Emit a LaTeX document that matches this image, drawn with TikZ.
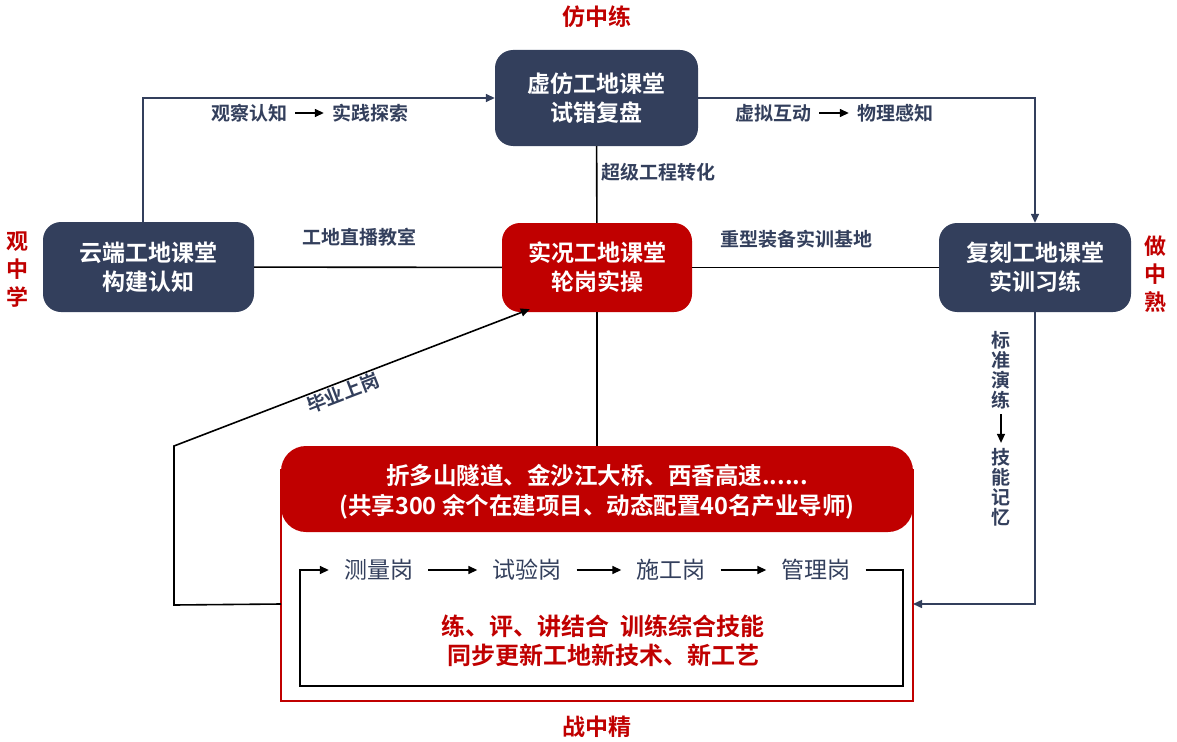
\documentclass[tikz,border=0pt]{standalone}
\usepackage{fontspec}
\setmainfont[BoldFont={Noto Sans CJK SC Bold}]{Noto Sans CJK SC}
\usetikzlibrary{arrows.meta}
\definecolor{navy}{RGB}{51,63,92}
\definecolor{fire}{RGB}{192,0,0}

\begin{document}
\begin{tikzpicture}[x=1pt,y=-1pt,
        room/.style={rounded corners=18pt,fill=navy,text=white,align=center,
            font=\fontsize{23}{29}\selectfont\bfseries,inner sep=0pt},
        liveroom/.style={room,fill=fire},
        lbl/.style={text=navy,font=\fontsize{19}{22}\selectfont\bfseries,inner sep=0pt},
        post/.style={text=navy,font=\fontsize{23}{26}\selectfont,inner xsep=15pt,inner ysep=2pt},
        motto/.style={text=fire,font=\fontsize{23}{28}\selectfont\bfseries,align=center},
        navyline/.style={draw=navy,line width=1.5pt},
        blk/.style={draw=black,line width=1.6pt},
        tip/.style={-{Triangle[length=9pt,width=8pt]}}]
    \useasboundingbox (0,0) rectangle (1177,741);

% four classrooms
\node[room,minimum width=211pt,minimum height=90pt] (cloud) at (148.5,267) {云端工地课堂\\构建认知};
\node[room,minimum width=203pt,minimum height=96pt] (sim) at (596.5,98) {虚仿工地课堂\\试错复盘};
\node[liveroom,minimum width=190pt,minimum height=89pt] (live) at (597,267.5) {实况工地课堂\\轮岗实操};
\node[room,minimum width=192pt,minimum height=89pt] (copy) at (1035,267.5) {复刻工地课堂\\实训习练};

\node[motto] (t1) at (597,17) {仿中练};
\node[motto,font=\fontsize{22}{28}\selectfont\bfseries] (t2) at (17,270) {观\\中\\学};
\node[motto,font=\fontsize{22}{28}\selectfont\bfseries] (t3) at (1155,274) {做\\中\\熟};
\node[motto] (t4) at (597,727) {战中精};

% site box
\draw[fire,line width=1.6pt] (281,470) rectangle (913,701);
\node[fill=fire,rounded corners=25pt,minimum width=632pt,minimum height=86pt,inner sep=0pt] (site) at (597,489) {};
\node[text=white,align=center,font=\fontsize{23.5}{30}\selectfont\bfseries] (sitetxt) at (597,492)
    {折多山隧道、金沙江大桥、西香高速......\\(共享300 余个在建项目、动态配置40名产业导师)};

\node[post] (p1) at (378.5,570) {测量岗};
\node[post] (p2) at (527,570) {试验岗};
\node[post] (p3) at (671,570) {施工岗};
\node[post] (p4) at (816,570) {管理岗};
\draw[blk,tip] (p1) -- (p2);
\draw[blk,tip] (p2) -- (p3);
\draw[blk,tip] (p3) -- (p4);
\coordinate (loopR) at (903,686);
\coordinate (loopL) at (300,686);
\draw[blk,tip] (p4.east) -| (loopR) -- (loopL) |- (p1.west);

\node[motto,font=\fontsize{24}{29}\selectfont\bfseries] (m1) at (603,641) {练、评、讲结合\ \ 训练综合技能\\同步更新工地新技术、新工艺};

% connectors
\draw[navyline,tip] ([xshift=-5.5pt]cloud.north) |- (sim.west);
\draw[navyline,tip] (sim.east) -| (copy.north);
\draw[blk] (sim) -- (live);
\draw[blk] (cloud) -- (live);
\draw[blk] (live) -- (copy);
\draw[blk] (live.south) -- (site.north);
\coordinate (inR) at (913,604);
\draw[navyline,tip] (copy.south) |- (inR);

\coordinate (outL) at (281,604);
\coordinate (bendB) at (174,605);
\coordinate (bendT) at (174,446);
\draw[blk,tip] (outL) -- (bendB) -- (bendT) -- ([xshift=28pt,yshift=3pt]live.south west);

% labels
\node[lbl,inner xsep=8pt] (a1) at (249,113) {观察认知};
\node[lbl,inner xsep=8pt] (a2) at (370,113) {实践探索};
\draw[black,line width=1.4pt,tip] (a1) -- (a2);
\node[lbl,inner xsep=8pt] (b1) at (773,113) {虚拟互动};
\node[lbl,inner xsep=8pt] (b2) at (895,113) {物理感知};
\draw[black,line width=1.4pt,tip] (b1) -- (b2);
\node[lbl,anchor=west] (c1) at (601,172) {超级工程转化};
\node[lbl] (c2) at (359,237) {工地直播教室};
\node[lbl] (c3) at (796,239) {重型装备实训基地};
\node[lbl,rotate=21] (c4) at (343,393) {毕业上岗};
\node[lbl,align=center,font=\fontsize{19}{20}\selectfont\bfseries,inner ysep=5pt] (d1) at (1001,370) {标\\准\\演\\练};
\node[lbl,align=center,font=\fontsize{19}{20}\selectfont\bfseries,inner ysep=5pt] (d2) at (1001,487) {技\\能\\记\\忆};
\draw[black,line width=1.4pt,tip] (d1) -- (d2);

\end{tikzpicture}
\end{document}
